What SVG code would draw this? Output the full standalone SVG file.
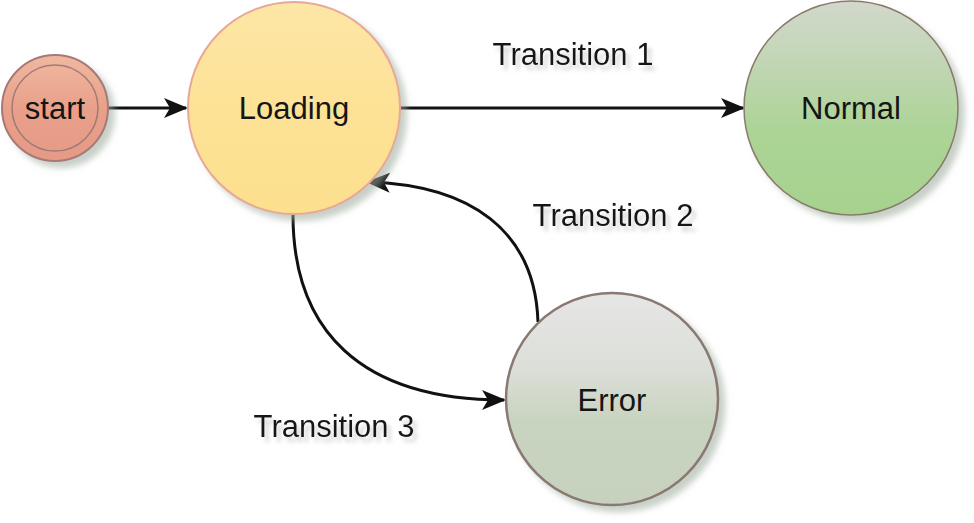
<svg xmlns="http://www.w3.org/2000/svg" width="974" height="523" viewBox="0 0 974 523">
<style>
text{font-family:"Liberation Sans",Arial,sans-serif;font-size:31px;fill:#151515;text-anchor:middle}
.edge{fill:none;stroke:#111;stroke-width:3}
</style>
<defs>
<filter id="sh" x="-20%" y="-20%" width="150%" height="150%">
<feDropShadow dx="6" dy="6" stdDeviation="3" flood-color="#9aa89a" flood-opacity="0.55"/>
</filter>
<filter id="tsh" x="-10%" y="-30%" width="130%" height="180%">
<feDropShadow dx="4" dy="5" stdDeviation="2" flood-color="#999" flood-opacity="0.45"/>
</filter>
<linearGradient id="gStart" x1="0" y1="0" x2="0" y2="1"><stop offset="0" stop-color="#f0b8a0"/><stop offset="0.5" stop-color="#e9a08a"/><stop offset="1" stop-color="#e59a86"/></linearGradient>
<linearGradient id="gLoad" x1="0" y1="0" x2="0" y2="1"><stop offset="0" stop-color="#fde6a6"/><stop offset="0.5" stop-color="#fde296"/><stop offset="1" stop-color="#fce08e"/></linearGradient>
<linearGradient id="gNorm" x1="0" y1="0" x2="0" y2="1"><stop offset="0" stop-color="#d2d8cc"/><stop offset="0.25" stop-color="#c4d6b8"/><stop offset="0.6" stop-color="#acd496"/><stop offset="1" stop-color="#a6d28e"/></linearGradient>
<linearGradient id="gErr" x1="0" y1="0" x2="0" y2="1"><stop offset="0" stop-color="#e6e6e6"/><stop offset="0.35" stop-color="#dcdfd8"/><stop offset="0.6" stop-color="#c8d4c0"/><stop offset="1" stop-color="#c6d2be"/></linearGradient>
<marker id="arr" viewBox="0 0 24 20" refX="22" refY="10" markerWidth="24" markerHeight="20" markerUnits="userSpaceOnUse" orient="auto">
<path d="M0,0 L24,10 L0,20 L6,10 Z" fill="#111"/>
</marker>
</defs>
<g id="connectors">
<line class="edge" x1="109" y1="108" x2="186" y2="108" marker-end="url(#arr)"/>
<line class="edge" x1="400" y1="108" x2="743" y2="108" marker-end="url(#arr)"/>
<path class="edge" d="M538,322 C535,230 470,185 368,182" marker-end="url(#arr)"/>
<path class="edge" d="M293,215 C293,330 360,400 504,400" marker-end="url(#arr)"/>
<text x="573" y="65" filter="url(#tsh)">Transition 1</text>
<text x="613" y="226" filter="url(#tsh)">Transition 2</text>
<text x="334" y="437" filter="url(#tsh)">Transition 3</text>
</g>
<g id="start">
<circle cx="55" cy="108" r="53" fill="url(#gStart)" stroke="#a87878" stroke-width="2" filter="url(#sh)"/>
<circle cx="55" cy="108" r="43" fill="none" stroke="#a07a78" stroke-width="1.5"/>
<text x="55" y="119">start</text>
</g>
<g id="loading">
<circle cx="294" cy="108" r="106" fill="url(#gLoad)" stroke="#e8a898" stroke-width="2" filter="url(#sh)"/>
<text x="294" y="119">Loading</text>
</g>
<g id="normal">
<circle cx="851" cy="108" r="107" fill="url(#gNorm)" stroke="#8a7a6a" stroke-width="1.5" filter="url(#sh)"/>
<text x="851" y="119">Normal</text>
</g>
<g id="error">
<circle cx="612" cy="399" r="106" fill="url(#gErr)" stroke="#8a7872" stroke-width="2.5" filter="url(#sh)"/>
<text x="612" y="411">Error</text>
</g>
</svg>
